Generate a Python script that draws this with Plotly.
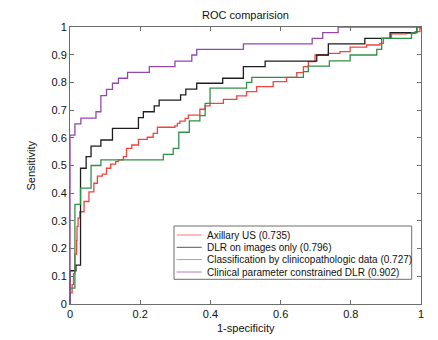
import plotly.graph_objects as go

# ROC corner points (FPR, TPR) for each model
us_fpr = [0, 0, 0.006, 0.01, 0.014, 0.019, 0.02, 0.023, 0.028, 0.04, 0.054, 0.068, 0.078, 0.092, 0.104, 0.116, 0.13, 0.138, 0.152, 0.161, 0.176, 0.195, 0.22, 0.237, 0.249, 0.299, 0.306, 0.313, 0.328, 0.337, 0.37, 0.385, 0.399, 0.437, 0.475, 0.503, 0.532, 0.579, 0.617, 0.646, 0.665, 0.679, 0.698, 0.736, 0.769, 0.798, 0.845, 0.883, 0.893, 0.916, 0.959, 0.983, 0.997, 1]
us_tpr = [0, 0.04, 0.07, 0.11, 0.18, 0.23, 0.28, 0.31, 0.333, 0.37, 0.405, 0.436, 0.462, 0.469, 0.49, 0.505, 0.514, 0.52, 0.532, 0.562, 0.574, 0.594, 0.602, 0.616, 0.638, 0.643, 0.652, 0.66, 0.67, 0.682, 0.703, 0.715, 0.724, 0.739, 0.751, 0.767, 0.785, 0.803, 0.818, 0.835, 0.857, 0.875, 0.899, 0.905, 0.911, 0.927, 0.935, 0.941, 0.959, 0.975, 0.977, 0.983, 0.995, 1]

dlr_fpr = [0, 0, 0.017, 0.03, 0.046, 0.06, 0.088, 0.121, 0.195, 0.209, 0.24, 0.254, 0.315, 0.33, 0.361, 0.435, 0.494, 0.556, 0.703, 0.736, 0.84, 0.912, 0.988, 1]
dlr_tpr = [0, 0.12, 0.14, 0.49, 0.532, 0.57, 0.592, 0.634, 0.673, 0.694, 0.715, 0.736, 0.755, 0.776, 0.797, 0.815, 0.857, 0.877, 0.899, 0.939, 0.959, 0.98, 1.0, 1]

clin_fpr = [0, 0, 0.014, 0.03, 0.06, 0.088, 0.266, 0.294, 0.31, 0.34, 0.37, 0.385, 0.399, 0.503, 0.518, 0.665, 0.679, 0.739, 0.798, 0.874, 0.888, 0.973, 0.988, 1]
clin_tpr = [0, 0.057, 0.36, 0.418, 0.5, 0.52, 0.54, 0.562, 0.62, 0.661, 0.68, 0.724, 0.779, 0.8, 0.818, 0.839, 0.859, 0.878, 0.899, 0.919, 0.959, 0.98, 1.0, 1]

cdlr_fpr = [0, 0, 0.014, 0.031, 0.074, 0.088, 0.104, 0.121, 0.138, 0.164, 0.226, 0.299, 0.347, 0.361, 0.494, 0.69, 0.72, 0.764, 1]
cdlr_tpr = [0, 0.61, 0.65, 0.671, 0.694, 0.752, 0.775, 0.797, 0.815, 0.836, 0.857, 0.877, 0.899, 0.919, 0.939, 0.959, 0.98, 1.0, 1]

names = ["Axillary US (0.735)", "DLR on images only (0.796)",
         "Classification by clinicopathologic data (0.727)",
         "Clinical parameter constrained DLR (0.902)"]
colors = ["#f2433c", "#1e1e1e", "#2f9048", "#9448ab"]
legend_colors = ["#f47a74", "#555555", "#7cc08c", "#b07cc4"]
xt = [0, 0.2, 0.4, 0.6, 0.8, 1]
xtl = ["0", "0.2", "0.4", "0.6", "0.8", "1"]
yt = [0, 0.1, 0.2, 0.3, 0.4, 0.5, 0.6, 0.7, 0.8, 0.9, 1]
ytl = ["0", "0.1", "0.2", "0.3", "0.4", "0.5", "0.6", "0.7", "0.8", "0.9", "1"]

fig = go.Figure()
for xs, ys, nm, c in zip([us_fpr, dlr_fpr, clin_fpr, cdlr_fpr],
                         [us_tpr, dlr_tpr, clin_tpr, cdlr_tpr], names, colors):
    fig.add_trace(go.Scatter(x=xs, y=ys, mode="lines", name=nm, showlegend=False,
                             line=dict(color=c, width=1.3, shape="hv")))

axis_common = dict(showgrid=False, zeroline=False, showline=True, mirror="ticks",
                   linecolor="#6e6e6e", linewidth=1, ticks="inside", ticklen=4,
                   tickcolor="#6e6e6e", tickfont=dict(size=11, color="#111"))
fig.update_xaxes(range=[0, 1], tickvals=xt, ticktext=xtl, **axis_common)
fig.update_yaxes(range=[0, 1], tickvals=yt, ticktext=ytl, **axis_common)

# manual legend box (paper coordinates of the plot area)
PX0, PX1, PY0, PY1 = 70, 421, 27, 304
def px(x):
    return (x - PX0) / (PX1 - PX0)
def py(y):
    return (PY1 - y) / (PY1 - PY0)

shapes = [dict(type="rect", xref="paper", yref="paper",
               x0=px(174), x1=px(411.7), y0=py(279.3), y1=py(226),
               line=dict(color="#6e6e6e", width=1), fillcolor="white", layer="above")]
annotations = [
    dict(text="1-specificity", xref="paper", yref="paper", x=0.5, y=py(328),
         xanchor="center", yanchor="middle", showarrow=False, font=dict(size=11, color="#111")),
    dict(text="Sensitivity", xref="paper", yref="paper", x=px(30), y=0.5, textangle=-90,
         xanchor="center", yanchor="middle", showarrow=False, font=dict(size=11, color="#111")),
]
rows = [235, 247.3, 259.6, 272]
for r, nm, c in zip(rows, names, legend_colors):
    shapes.append(dict(type="line", xref="paper", yref="paper",
                       x0=px(176.7), x1=px(201.7), y0=py(r), y1=py(r),
                       line=dict(color=c, width=1), layer="above"))
    annotations.append(dict(text=nm, xref="paper", yref="paper", x=px(204.5), y=py(r),
                            xanchor="left", yanchor="middle", showarrow=False,
                            font=dict(size=10, color="#111")))

fig.update_layout(
    width=438, height=340,
    margin=dict(l=70, r=17, t=27, b=36),
    paper_bgcolor="white", plot_bgcolor="white",
    font=dict(family="Liberation Sans, Arial, sans-serif", size=11, color="#111"),
    title=dict(text="ROC comparision", x=(70 + 421) / 2 / 438, xanchor="center",
               y=1 - 15 / 340, yanchor="middle", font=dict(size=11)),
    showlegend=False,
    shapes=shapes, annotations=annotations,
)

fig.write_html("out.html")
